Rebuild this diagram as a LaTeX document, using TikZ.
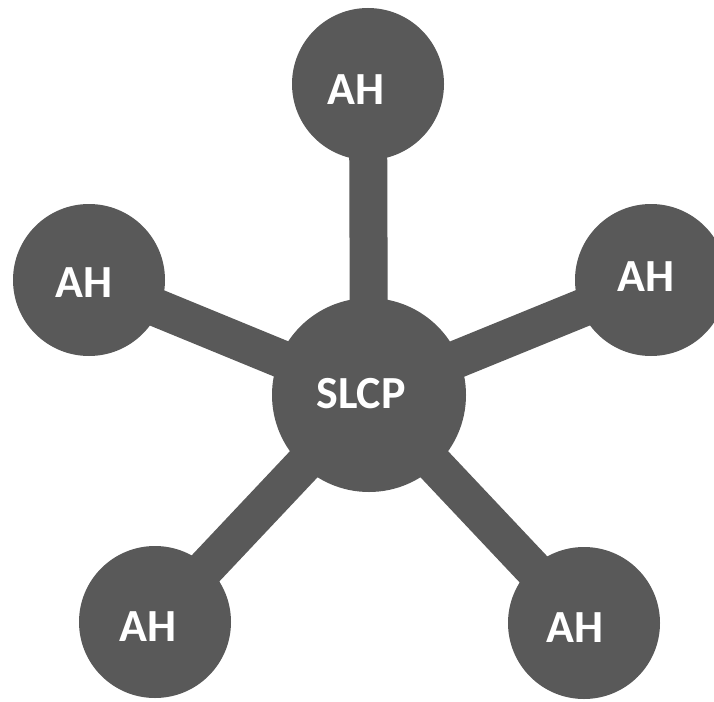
\documentclass[tikz,border=0pt]{standalone}
\usepackage{fontspec}
\setmainfont{Carlito}
\definecolor{hubgray}{HTML}{595959}
\begin{document}
\begin{tikzpicture}[x=1pt,y=-1pt,
   ah/.style={circle,fill=hubgray,minimum size=152pt,inner sep=0pt},
   hub/.style={circle,fill=hubgray,minimum size=194pt,inner sep=0pt},
   arm/.style={draw=hubgray,line width=38pt},
   lbl/.style={text=white,font=\fontsize{46}{46}\selectfont\bfseries,inner sep=0pt}]
   \useasboundingbox (0,0) rectangle (714,701);
   \clip (0,0) rectangle (714,701);
   % Hub
   \node[hub] (slcp) at (369,395) {};
   % Satellites
   \node[ah] (top) at (368,84) {};
   \node[ah] (left) at (89,280) {};
   \node[ah] (right) at (651,280) {};
   \node[ah] (botleft) at (155,622) {};
   \node[ah] (botright) at (584,623) {};
   % Arms
   \draw[arm] (slcp.center) -- (top.center);
   \draw[arm] (slcp.center) -- (left.center);
   \draw[arm] (slcp.center) -- (right.center);
   \draw[arm] (slcp.center) -- (botleft.center);
   \draw[arm] (slcp.center) -- (botright.center);
   % Labels
   \node[lbl] (slcptext) at (361,394) {SLCP};
   \node[lbl] (toptext) at (356,90) {AH};
   \node[lbl] (lefttext) at (84,283) {AH};
   \node[lbl] (righttext) at (646,277) {AH};
   \node[lbl] (botlefttext) at (148,627) {AH};
   \node[lbl] (botrighttext) at (575,628) {AH};
 \end{tikzpicture}
\end{document}
